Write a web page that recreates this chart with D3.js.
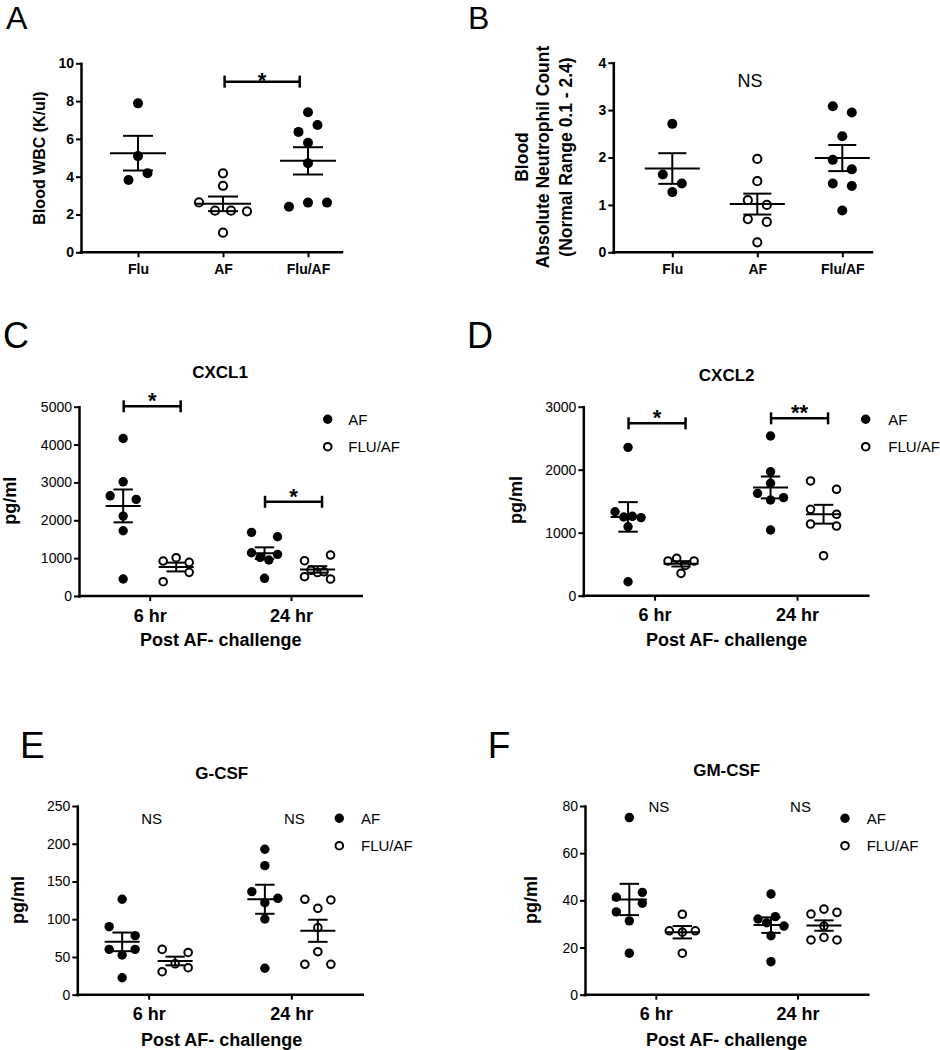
<!DOCTYPE html>
<html><head><meta charset="utf-8">
<script src="https://cdn.jsdelivr.net/npm/d3@7"></script>
<style>
body{margin:0;background:#fff}
svg text{font-family:"Liberation Sans",Arial,Helvetica,sans-serif;fill:#000}
</style>
</head><body>
<svg id="fig" width="940" height="1050"></svg>
<script>
// ---------- DATA ----------
const catsAB = ["Flu", "AF", "Flu/AF"];
const wbcFlu = [7.88, 5.09, 3.83, 4.18];
const wbcAF = [4.18, 3.52, 2.64, 2.20, 2.20, 2.17, 1.04];
const wbcFluAF = [7.41, 6.37, 6.74, 5.80, 4.71, 2.41, 2.63, 2.63];
const wbcTicks = [0, 2, 4, 6, 8, 10];

const ancFlu = [2.71, 1.64, 1.45, 1.27];
const ancAF = [1.97, 1.50, 1.10, 1.00, 0.70, 0.64, 0.21];
const ancFluAF = [3.08, 2.95, 2.45, 1.95, 1.75, 1.45, 1.40, 0.88];
const ancTicks = [0, 1, 2, 3, 4];

const timeCats = ["6 hr", "24 hr"];
const seriesNames = ["AF", "FLU/AF"];

const cxcl1AF6 = [4161, 3016, 2646, 2551, 2111, 1723, 449];
const cxcl1FLU6 = [923, 1011, 888, 378, 625];
const cxcl1AF24 = [1681, 1565, 1143, 1020, 950, 1100, 467];
const cxcl1FLU24 = [932, 1082, 510, 680, 620, 640, 449];
const cxcl1Ticks = [0, 1000, 2000, 3000, 4000, 5000];

const cxcl2AF6 = [2355, 1333, 1250, 1260, 1240, 1095, 222];
const cxcl2FLU6 = [551, 593, 480, 551, 355];
const cxcl2AF24 = [2535, 1968, 1784, 1625, 1519, 1556, 1043];
const cxcl2FLU24 = [1821, 1689, 1371, 1292, 1138, 1106, 635];
const cxcl2Ticks = [0, 1000, 2000, 3000];

const gcsfAF6 = [126.4, 90.1, 78.2, 60.1, 52.6, 60.1, 22.5];
const gcsfFLU6 = [60, 56, 30.5, 41, 35.8];
const gcsfAF24 = [192.7, 171, 136.5, 127.7, 121.9, 100.3, 35];
const gcsfFLU24 = [126.4, 114.5, 125.5, 88.8, 57, 40.3, 40.3];
const gcsfTicks = [0, 50, 100, 150, 200, 250];

const gmAF6 = [75.1, 41.3, 43.4, 35.1, 38.8, 31.3, 17.6];
const gmFLU6 = [34.1, 27.1, 26.5, 27.1, 17.6];
const gmAF24 = [42.7, 32.1, 30.5, 33.1, 29.1, 25, 14];
const gmFLU24 = [34.2, 36.3, 34.9, 29.1, 23.2, 24.3, 23.2];
const gmTicks = [0, 20, 40, 60, 80];

const wbcSig = [{from: "AF", to: "Flu/AF", value: 9.03, label: "*"}];
const cxcl1Sig = [{cat: "6 hr", value: 5010, label: "*"}, {cat: "24 hr", value: 2488, label: "*"}];
const cxcl2Sig = [{cat: "6 hr", value: 2736, label: "*"}, {cat: "24 hr", value: 2815, label: "**"}];

// ---------- DRAWING ----------
const svg = d3.select("#fig");

function swarm(vals, y, thr, step, maxW) {
  const idx = vals.map((v, i) => i).sort((a, b) => (y(vals[a]) - y(vals[b])) || (a - b));
  const off = new Array(vals.length).fill(0);
  let row = [], start = null;
  const flush = () => {
    row.sort((a, b) => a - b);
    const n = row.length;
    const s = n > 1 ? Math.min(step, maxW / (n - 1)) : 0;
    row.forEach((k, j) => off[k] = (j - (n - 1) / 2) * s);
  };
  idx.forEach(i => {
    const py = y(vals[i]);
    if (start === null || py - start > thr) { if (row.length) flush(); row = [i]; start = py; }
    else row.push(i);
  });
  if (row.length) flush();
  return off;
}

function seg(g, x1, y1, x2, y2, w) {
  g.append("line").attr("x1", x1).attr("y1", y1).attr("x2", x2).attr("y2", y2)
    .attr("stroke", "#000").attr("stroke-width", w || 2);
}

function txt(g, x, y, s, size, weight, anchor, rot) {
  const t = g.append("text").attr("x", x).attr("y", y).text(s)
    .attr("font-size", size).attr("font-weight", weight || "normal")
    .attr("text-anchor", anchor || "middle");
  if (rot) t.attr("transform", `rotate(-90,${x},${y})`);
  return t;
}

function panel(cfg) {
  const g = svg.append("g");
  const y = d3.scaleLinear().domain(cfg.yDomain).range([cfg.y0, cfg.yTop]);
  const x = cfg.grouped
    ? d3.scalePoint().domain(cfg.cats).range([cfg.axisX, cfg.axisEnd]).padding(0.5)
    : d3.scalePoint().domain(cfg.cats).range(cfg.catRange);
  const xg = d3.scalePoint().domain(seriesNames).range([-26.5, 26.5]);
  const gx = gr => x(gr.cat) + (cfg.grouped ? xg(gr.series) : 0);

  // axes
  const ya = g.append("g").attr("transform", `translate(${cfg.axisX},0)`)
    .call(d3.axisLeft(y).tickValues(cfg.ticks).tickFormat(d => String(d))
      .tickSize(5).tickPadding(2).tickSizeOuter(0));
  ya.selectAll("text").attr("font-size", 14).attr("font-weight", cfg.tickBold ? "bold" : "normal");
  const xa = g.append("g").attr("transform", `translate(0,${cfg.y0})`)
    .call(d3.axisBottom(x).tickSize(5).tickPadding(cfg.xPad).tickSizeOuter(0));
  xa.select(".domain").attr("d", `M${cfg.axisX},0H${cfg.axisEnd}`);
  xa.selectAll("text").attr("font-size", cfg.xFont).attr("font-weight", "bold");
  [ya, xa].forEach(a => {
    a.attr("font-family", null);
    a.select(".domain").attr("stroke-width", 2.5).attr("stroke-linecap", "square");
    a.selectAll(".tick line").attr("stroke-width", 2);
  });

  // points + mean/SEM
  cfg.groups.forEach(gr => {
    const cx = gx(gr);
    const offs = swarm(gr.values, y, cfg.thr, cfg.step, cfg.maxW);
    g.append("g").selectAll("circle").data(gr.values).join("circle")
      .attr("cx", (d, i) => cx + offs[i]).attr("cy", d => y(d))
      .attr("r", gr.filled ? cfg.r : cfg.r - 0.9)
      .attr("fill", gr.filled ? "#000" : "#fff")
      .attr("stroke", gr.filled ? "none" : "#000").attr("stroke-width", 2);
    const m = d3.mean(gr.values);
    const se = d3.deviation(gr.values) / Math.sqrt(gr.values.length);
    seg(g, cx - cfg.meanW, y(m), cx + cfg.meanW, y(m));
    seg(g, cx, y(m + se), cx, y(m - se));
    seg(g, cx - cfg.capW, y(m + se), cx + cfg.capW, y(m + se));
    seg(g, cx - cfg.capW, y(m - se), cx + cfg.capW, y(m - se));
  });

  // significance bars
  (cfg.sig || []).forEach(s => {
    let x1, x2;
    if (cfg.grouped) { x1 = x(s.cat) + xg("AF") + 0.5; x2 = x(s.cat) + xg("FLU/AF") + 4.5; }
    else { x1 = x(s.from) + 1.6; x2 = x(s.to) - 8.3; }
    const by = y(s.value);
    seg(g, x1, by, x2, by, 2.5);
    seg(g, x1, by - 6, x1, by + 6, 2.5);
    seg(g, x2, by - 6, x2, by + 6, 2.5);
    txt(g, (x1 + x2) / 2, by - cfg.starGap + 12.6, s.label, 22, "bold");
  });

  // NS labels
  (cfg.ns || []).forEach(n => {
    const nx = n.cat ? x(n.cat) + 3 : n.x;
    txt(g, nx, n.y + 0.358 * n.size, "NS", n.size);
  });

  // legend
  if (cfg.legend) {
    const L = cfg.legend;
    g.append("circle").attr("cx", L.x).attr("cy", L.y).attr("r", cfg.r).attr("fill", "#000");
    g.append("circle").attr("cx", L.x).attr("cy", L.y + 27.4).attr("r", cfg.r - 0.9)
      .attr("fill", "#fff").attr("stroke", "#000").attr("stroke-width", 2);
    txt(g, L.tx, L.y + 5.4, seriesNames[0], 15, "normal", "start");
    txt(g, L.tx, L.y + 27.4 + 5.4, seriesNames[1], 15, "normal", "start");
  }

  // titles / labels
  if (cfg.title) txt(g, cfg.title.x, cfg.title.y, cfg.title.text, 17, "bold");
  if (cfg.xTitle) txt(g, cfg.xTitle.x, cfg.xTitle.y, "Post AF- challenge", 18, "bold");
  cfg.yTitle.forEach(t => txt(g, t.x, t.y, t.text, t.size, "bold", "middle", true));
  txt(g, cfg.letter.x, cfg.letter.y, cfg.letter.text, cfg.letter.size, "normal", "start");
}

function grouped(af6, flu6, af24, flu24) {
  return [
    {cat: "6 hr", series: "AF", values: af6, filled: true},
    {cat: "6 hr", series: "FLU/AF", values: flu6, filled: false},
    {cat: "24 hr", series: "AF", values: af24, filled: true},
    {cat: "24 hr", series: "FLU/AF", values: flu24, filled: false}
  ];
}

// A
panel({
  grouped: false, cats: catsAB, catRange: [138, 308], axisX: 81, axisEnd: 342,
  y0: 252.3, yTop: 63.3, yDomain: [0, 10], ticks: wbcTicks, tickBold: true,
  xFont: 14, xPad: 6.8, r: 5, thr: 10, step: 19, maxW: 48, meanW: 28, capW: 15,
  groups: [
    {cat: "Flu", values: wbcFlu, filled: true},
    {cat: "AF", values: wbcAF, filled: false},
    {cat: "Flu/AF", values: wbcFluAF, filled: true}
  ],
  sig: wbcSig, starGap: 6.7,
  yTitle: [{x: 45, y: 158, text: "Blood WBC (K/ul)", size: 16}],
  letter: {x: 6, y: 29, text: "A", size: 32}
});

// B
panel({
  grouped: false, cats: catsAB, catRange: [672.3, 842.3], axisX: 613.3, axisEnd: 872,
  y0: 252.3, yTop: 62.7, yDomain: [0, 4], ticks: ancTicks, tickBold: true,
  xFont: 14, xPad: 6.8, r: 5, thr: 10, step: 19, maxW: 48, meanW: 27.5, capW: 14,
  groups: [
    {cat: "Flu", values: ancFlu, filled: true},
    {cat: "AF", values: ancAF, filled: false},
    {cat: "Flu/AF", values: ancFluAF, filled: true}
  ],
  ns: [{x: 750, y: 81, size: 18}],
  yTitle: [
    {x: 527.5, y: 157, text: "Blood", size: 17.5},
    {x: 549.2, y: 157, text: "Absolute Neutrophil Count", size: 17.5},
    {x: 571.8, y: 157, text: "(Normal Range 0.1 - 2.4)", size: 17.5}
  ],
  letter: {x: 468, y: 29, text: "B", size: 32}
});

// C
panel({
  grouped: true, cats: timeCats, axisX: 79, axisEnd: 361.7,
  y0: 596, yTop: 406.7, yDomain: [0, 5000], ticks: cxcl1Ticks, tickBold: false,
  xFont: 18, xPad: 7.9, r: 4.7, thr: 10, step: 26, maxW: 26, meanW: 17.5, capW: 9.7,
  groups: grouped(cxcl1AF6, cxcl1FLU6, cxcl1AF24, cxcl1FLU24),
  sig: cxcl1Sig, starGap: 10.5,
  legend: {x: 327.7, y: 419.3, tx: 348.3},
  title: {x: 220, y: 377.8, text: "CXCL1"},
  xTitle: {x: 220.8, y: 646},
  yTitle: [{x: 16, y: 500.7, text: "pg/ml", size: 18}],
  letter: {x: 3, y: 348, text: "C", size: 36}
});

// D
panel({
  grouped: true, cats: timeCats, axisX: 583.3, axisEnd: 868.3,
  y0: 595.7, yTop: 406.7, yDomain: [0, 3000], ticks: cxcl2Ticks, tickBold: false,
  xFont: 18, xPad: 7.9, r: 4.7, thr: 10, step: 26, maxW: 26, meanW: 17.5, capW: 9.7,
  groups: grouped(cxcl2AF6, cxcl2FLU6, cxcl2AF24, cxcl2FLU24),
  sig: cxcl2Sig, starGap: 10.5,
  legend: {x: 865.7, y: 419.3, tx: 888.3},
  title: {x: 726.7, y: 381, text: "CXCL2"},
  xTitle: {x: 726.7, y: 646},
  yTitle: [{x: 522, y: 500, text: "pg/ml", size: 18}],
  letter: {x: 467, y: 348, text: "D", size: 36}
});

// E
panel({
  grouped: true, cats: timeCats, axisX: 77.3, axisEnd: 362.7,
  y0: 994.7, yTop: 806, yDomain: [0, 250], ticks: gcsfTicks, tickBold: false,
  xFont: 18, xPad: 7.6, r: 4.7, thr: 10, step: 26, maxW: 26, meanW: 17.5, capW: 9.7,
  groups: grouped(gcsfAF6, gcsfFLU6, gcsfAF24, gcsfFLU24),
  ns: [{cat: "6 hr", y: 818.3, size: 15}, {cat: "24 hr", y: 818.3, size: 15}],
  legend: {x: 339.3, y: 818.3, tx: 361},
  title: {x: 221.7, y: 779, text: "G-CSF"},
  xTitle: {x: 221.7, y: 1045.7},
  yTitle: [{x: 24, y: 900, text: "pg/ml", size: 18}],
  letter: {x: 20, y: 758, text: "E", size: 37}
});

// F
panel({
  grouped: true, cats: timeCats, axisX: 585, axisEnd: 868.3,
  y0: 994.7, yTop: 806, yDomain: [0, 80], ticks: gmTicks, tickBold: false,
  xFont: 18, xPad: 7.6, r: 4.7, thr: 10, step: 26, maxW: 26, meanW: 17.5, capW: 9.7,
  groups: grouped(gmAF6, gmFLU6, gmAF24, gmFLU24),
  ns: [{cat: "6 hr", y: 806.7, size: 15}, {cat: "24 hr", y: 806.7, size: 15}],
  legend: {x: 845, y: 818.3, tx: 866.7},
  title: {x: 726.7, y: 776, text: "GM-CSF"},
  xTitle: {x: 726.7, y: 1045.7},
  yTitle: [{x: 537, y: 900, text: "pg/ml", size: 18}],
  letter: {x: 487.7, y: 758, text: "F", size: 37}
});
</script>
</body></html>
